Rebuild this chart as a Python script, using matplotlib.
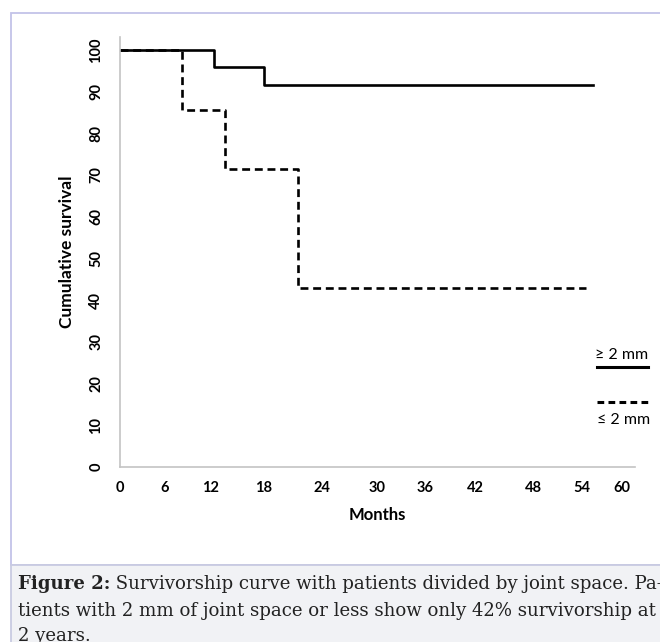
import numpy as np
import matplotlib
matplotlib.use("Agg")
import matplotlib.pyplot as plt
from matplotlib.patches import Rectangle
from matplotlib.lines import Line2D

# survival data
solid_months = [0, 12.4, 18, 55.6]
solid_surv = [100, 95.8, 91.7, 91.7]
dashed_months = [0, 8.2, 13.7, 21.5, 54.6]
dashed_surv = [100, 85.7, 71.4, 42.9, 42.9]

x_ticks = [0, 6, 12, 18, 24, 30, 36, 42, 48, 54, 60]
y_ticks = [0, 10, 20, 30, 40, 50, 60, 70, 80, 90, 100]
legend_labels = ["\u2265 2 mm", "\u2264 2 mm"]
caption_bold = "Figure 2:"
caption_lines = [" Survivorship curve with patients divided by joint space. Pa-",
                 "tients with 2 mm of joint space or less show only 42% survivorship at",
                 "2 years."]

W, H = 660, 642

# the original excel axis has unevenly spaced month ticks -> piecewise scale
knot_m = [-60] + x_ticks + [120]
knot_p = [-450, 0, 45, 90, 144, 202, 257, 305, 355, 413, 462, 502, 502 + 60 * 8.2]

def fwd(x):
    return np.interp(x, knot_m, knot_p)

def inv(p):
    return np.interp(p, knot_p, knot_m)

fig = plt.figure(figsize=(W / 100, H / 100), dpi=100)
fig.patch.set_facecolor("white")

# page frame + caption box
fig.add_artist(Rectangle((11 / W, 1 - 565 / H), 700 / W, 552 / H, transform=fig.transFigure,
                         facecolor="white", edgecolor="#c3c3e8", lw=1.3, zorder=0))
fig.add_artist(Rectangle((11 / W, -0.05), 700 / W, 1 - 565 / H + 0.05, transform=fig.transFigure,
                         facecolor="#f1f2f5", edgecolor="#c9cbe2", lw=1.3, zorder=0))

ax = fig.add_axes([120 / W, 1 - 467 / H, (635 - 120) / W, (467 - 37) / H])
ax.set_facecolor("none")
ax.set_xscale("function", functions=(fwd, inv))

ax.step(solid_months, solid_surv, where="post", color="black", lw=1.9)
ax.step(dashed_months, dashed_surv, where="post", color="black", lw=1.9, linestyle=(0, (3, 1.8)))

ax.set_xlim(0, inv(515))
ax.set_ylim(0, 103.1)
ax.set_xticks(x_ticks)
ax.set_yticks(y_ticks)

tick_font = {"family": "Lato", "weight": "bold", "size": 10.5}
ax.set_xticklabels([str(t) for t in x_ticks], fontdict=tick_font)
ax.set_yticklabels([str(t) for t in y_ticks], fontdict=tick_font, rotation=90, va="center")
ax.tick_params(axis="both", length=0)
ax.tick_params(axis="x", pad=10)
ax.tick_params(axis="y", pad=12)

for s in ["top", "right"]:
    ax.spines[s].set_visible(False)
for s in ["left", "bottom"]:
    ax.spines[s].set_color("#c4c4c4")
    ax.spines[s].set_linewidth(1.2)

ax.set_xlabel("Months", family="Lato", weight="bold", size=12, labelpad=9)
ax.set_ylabel("Cumulative survival", family="Lato", weight="bold", size=12.5, labelpad=10)

# hand-made legend at the right edge
fig.text(622 / W, 1 - 355 / H, legend_labels[0], family="Lato", size=11.5, ha="center", va="center")
fig.add_artist(Line2D([597 / W, 648 / W], [1 - 367 / H, 1 - 367 / H], transform=fig.transFigure,
                      color="black", lw=2.2))
fig.add_artist(Line2D([597 / W, 648 / W], [1 - 402 / H, 1 - 402 / H], transform=fig.transFigure,
                      color="black", lw=2.2, linestyle=(0, (2.2, 1.4))))
fig.text(624 / W, 1 - 420 / H, legend_labels[1], family="Lato", size=11.5, ha="center", va="center")

# caption
cap_font = {"family": "DejaVu Serif", "size": 13.1}
r = fig.canvas.get_renderer()
t0 = fig.text(18 / W, 1 - 584 / H, caption_bold, weight="bold", va="center", color="#222222", **cap_font)
bb = t0.get_window_extent(r)
fig.text(bb.x1 / W, 1 - 584 / H, caption_lines[0], va="center", color="#222222", **cap_font)
fig.text(18 / W, 1 - 611 / H, caption_lines[1], va="center", color="#222222", **cap_font)
fig.text(18 / W, 1 - 636 / H, caption_lines[2], va="center", color="#222222", **cap_font)

fig.savefig("out.png", dpi=100)
